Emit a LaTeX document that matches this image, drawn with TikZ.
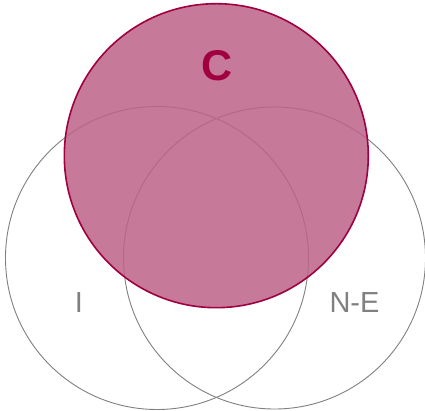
\documentclass[tikz,border=0pt]{standalone}
\usepackage{fontspec}
\setmainfont{Liberation Sans}
\usetikzlibrary{positioning}

\definecolor{cfill}{RGB}{190,98,136}
\definecolor{cline}{RGB}{160,0,64}
\definecolor{grayline}{RGB}{128,128,128}

\begin{document}
\begin{tikzpicture}[
x=1pt, y=1pt,
setc/.style={circle, draw=grayline, line width=0.9pt, inner sep=0pt},
topc/.style={circle, draw=cline, line width=1.6pt, fill=cfill, fill opacity=0.85, inner sep=0pt},
lab/.style={font=\fontsize{29}{29}\selectfont, text=grayline, inner sep=0pt},
clab/.style={font=\fontsize{43}{43}\selectfont\bfseries, text=cline, inner sep=0pt}
]
\useasboundingbox (0,0) rectangle (425,411);
\fill[white] (0,0) rectangle (425,411);

\node[setc, minimum size=303pt] (iset) at (157,153) {};
\node[setc, minimum size=302pt] (neset) at (274.5,153) {};
\node[topc, minimum size=304pt] (cset) at (216.3,255.3) {};

\node[clab] (c) at (217,345) {C};
\node[lab] (i) at (79,108) {I};
\node[lab] (ne) at (354.5,108) {N-E};
\end{tikzpicture}
\end{document}
